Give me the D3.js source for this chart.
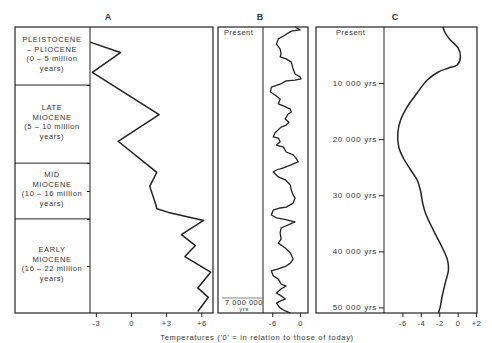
<!DOCTYPE html>
<html>
<head>
<meta charset="utf-8">
<script src="https://cdn.jsdelivr.net/npm/d3@7"></script>
<style>
  body { margin: 0; background: #fff; }
  svg { display: block; }
  text { font-family: 'Liberation Sans', Arial, sans-serif; fill: #333; }
</style>
</head>
<body>
<script>
// ---- data ----
const epochLabels = [
  ['PLEISTOCENE', '– PLIOCENE', '(0 – 5 million', 'years)'],
  ['LATE', 'MIOCENE', '(5 – 10 million', 'years)'],
  ['MID', 'MIOCENE', '(10 – 16 million', 'years)'],
  ['EARLY', 'MIOCENE', '(16 – 22 million', 'years)']
]
const epochBounds = [0, 5, 10, 16, 22] // million years ago
const epochStops = [0, 0.203, 0.476, 0.671, 1] // epochs are not drawn to scale

// A: last 22 million years
const aAge = [1.3, 2.2, 3.9, 6.9, 8.6, 11.0, 12.5, 14.4, 14.9, 15.3, 16.1, 17.0, 17.7, 18.4, 19.4, 20.4, 21.0, 21.9]
const aTemp = [-3.5, -0.9, -3.3, 2.4, -1.1, 2.2, 1.6, 2.1, 2.2, 3.2, 6.2, 4.3, 5.5, 4.6, 6.8, 5.7, 6.6, 5.7]
const aTicks = [-3, 0, 3, 6]

// B: last 7 million years
const bAge = [0, 0.07, 0.10, 0.22, 0.29, 0.42, 0.54, 0.66, 0.73, 0.78, 0.86, 1.03, 1.15, 1.22, 1.27, 1.30, 1.32, 1.40, 1.47, 1.59,
  1.69, 1.76, 1.88, 1.93, 2.01, 2.08, 2.13, 2.25, 2.33, 2.40, 2.45, 2.59, 2.69, 2.72, 2.81, 2.89, 2.94, 3.06, 3.13, 3.21,
  3.30, 3.33, 3.38, 3.45, 3.50, 3.55, 3.67, 3.74, 3.87, 3.99, 4.11, 4.19, 4.31, 4.41, 4.43, 4.48, 4.60, 4.67, 4.70, 4.77,
  4.92, 5.04, 5.19, 5.29, 5.41, 5.53, 5.68, 5.78, 5.85, 5.92, 5.97, 6.09, 6.17, 6.29, 6.34, 6.41, 6.51, 6.58, 6.66, 6.71,
  6.76, 6.88, 6.95, 7.0]
const bTemp = [-1.1, 0, -1.9, -3.6, -4.7, -5.1, -4.3, -4.1, -4.3, -3.0, -1.9, -1.5, -1.1, 0, 0.2, -1.1, -3.0, -4.3, -6.2, -6.4,
  -5.1, -4.3, -4.7, -3.6, -2.1, -1.9, -2.6, -3.2, -2.4, -3.0, -4.1, -5.4, -5.8, -4.7, -4.3, -5.1, -3.6, -3.0, -1.5, -0.9,
  -0.4, -1.1, -2.1, -3.6, -5.1, -5.8, -4.7, -3.2, -2.1, -1.9, -1.5, -1.1, -1.5, -3.0, -4.3, -5.8, -6.2, -5.1, -3.6, -1.1,
  -4.1, -4.3, -4.1, -4.7, -3.2, -2.1, -1.5, -2.1, -3.0, -4.7, -6.2, -5.8, -4.7, -4.1, -3.0, -4.1, -5.1, -4.1, -3.2, -4.3,
  -5.1, -4.3, -3.2, -2.1]
const bTicks = [-6, 0]

// C: last 50 000 years
const cYears = [0, 1070, 2320, 3740, 5350, 6780, 7310, 8020, 9450, 11770, 14270, 16580, 18900, 21400, 23360, 25500, 27280,
  29070, 31390, 33170, 36200, 39240, 41560, 43340, 45660, 48150, 49940, 51000]
const cTemp = [-1.6, -1.35, -0.8, 0.05, 0.3, -0.05, -1.0, -2.1, -3.3, -4.4, -5.5, -6.2, -6.5, -6.4, -5.9, -5.1, -4.4,
  -4.05, -3.8, -3.5, -2.65, -1.7, -1.1, -1.0, -1.35, -1.7, -1.9, -2.1]
const cTicks = [-6, -4, -2, 0, 2]
const cYearTicks = [10000, 20000, 30000, 40000, 50000]

// ---- layout ----
const width = 492
const height = 343
const plotTop = 27
const plotBottom = 313
const ink = '#222'

const svg = d3.select('body').append('svg')
  .attr('width', width)
  .attr('height', height)
  .attr('viewBox', [0, 0, width, height].join(' '))

const signed = d => d > 0 ? `+${d}` : `${d}`

const smallText = sel => sel
  .style('font-size', '7.5px')
  .style('letter-spacing', '0.5px')
  .attr('fill', '#333')

const bottomAxis = (scale, ticks) => {
  svg.append('g')
    .attr('transform', `translate(0, ${plotBottom})`)
    .call(d3.axisBottom(scale).tickValues(ticks).tickSize(4).tickSizeOuter(0).tickPadding(4).tickFormat(signed))
    .call(g => g.select('.domain').remove())
    .call(g => g.selectAll('line').attr('stroke', ink))
    .call(g => g.selectAll('text').attr('font-family', null).call(smallText))
}

const box = (x0, x1) => svg.append('rect')
  .attr('x', x0).attr('y', plotTop)
  .attr('width', x1 - x0).attr('height', plotBottom - plotTop)
  .attr('fill', 'none').attr('stroke', ink).attr('stroke-width', 1.2)

const vline = x => svg.append('line')
  .attr('x1', x).attr('x2', x).attr('y1', plotTop).attr('y2', plotBottom)
  .attr('stroke', ink).attr('stroke-width', 1)

const title = (x, t) => svg.append('text')
  .attr('x', x).attr('y', 20)
  .attr('text-anchor', 'middle')
  .style('font-size', '9px').style('font-weight', 'bold')
  .attr('fill', '#222')
  .text(t)

// ---- panel A ----
const aY = d3.scaleLinear()
  .domain(epochBounds)
  .range(epochStops.map(f => plotTop + f * (plotBottom - plotTop)))
const aX = d3.scaleLinear().domain([-3.5, 7]).range([90, 213])

box(15, 213)
vline(90)

svg.append('g')
  .selectAll('line')
  .data(epochBounds.slice(1, -1))
  .join('line')
  .attr('x1', 15).attr('x2', 90)
  .attr('y1', d => aY(d)).attr('y2', d => aY(d))
  .attr('stroke', ink)

svg.append('g')
  .attr('transform', 'translate(90, 0)')
  .call(d3.axisLeft(aY).tickValues([5, 10, 13, 16, 19]).tickSize(3).tickFormat(''))
  .call(g => g.select('.domain').remove())
  .call(g => g.selectAll('line').attr('stroke', ink))

epochLabels.forEach((lines, i) => {
  const mid = (aY(epochBounds[i]) + aY(epochBounds[i + 1])) / 2 - 2
  svg.append('g')
    .selectAll('text')
    .data(lines)
    .join('text')
    .attr('x', 52)
    .attr('y', (d, j) => mid + (j - (lines.length - 1) / 2) * 9.5)
    .attr('dy', '0.35em')
    .attr('text-anchor', 'middle')
    .call(smallText)
    .style('letter-spacing', '0.6px')
    .text(d => d)
})

svg.append('path')
  .datum(aAge.map((d, i) => [d, aTemp[i]]))
  .attr('fill', 'none')
  .attr('stroke', ink)
  .attr('stroke-width', 1.5)
  .attr('stroke-linejoin', 'round')
  .attr('d', d3.line().x(d => aX(d[1])).y(d => aY(d[0])))

bottomAxis(aX, aTicks)
title(108, 'A')

// ---- panel B ----
const bY = d3.scaleLinear().domain([0, 7]).range([plotTop, plotBottom])
const bX = d3.scaleLinear().domain([-8, 1.7]).range([263, 308])

box(218, 308)
vline(263)

svg.append('text')
  .attr('x', 224).attr('y', 35)
  .call(smallText)
  .text('Present')

svg.append('line')
  .attr('x1', 222).attr('x2', 263)
  .attr('y1', bY(7) - 15).attr('y2', bY(7) - 15)
  .attr('stroke', '#666').attr('stroke-width', 0.8)

svg.append('text')
  .attr('x', 244).attr('y', bY(7) - 8)
  .attr('text-anchor', 'middle')
  .call(smallText)
  .text('7 000 000')

svg.append('text')
  .attr('x', 244).attr('y', bY(7) - 2)
  .attr('text-anchor', 'middle')
  .call(smallText)
  .style('font-size', '6px')
  .text('yrs')

svg.append('path')
  .datum(bAge.map((d, i) => [d, bTemp[i]]))
  .attr('fill', 'none')
  .attr('stroke', ink)
  .attr('stroke-width', 1.3)
  .attr('stroke-linejoin', 'round')
  .attr('d', d3.line().x(d => bX(d[1])).y(d => bY(d[0])))

bottomAxis(bX, bTicks)
title(260, 'B')

// ---- panel C ----
const cY = d3.scaleLinear().domain([0, 51000]).range([plotTop, plotBottom])
const cX = d3.scaleLinear().domain([-8, 2.1]).range([384, 477])

box(316, 477)
vline(384)

svg.append('text')
  .attr('x', 336).attr('y', 35)
  .call(smallText)
  .text('Present')

svg.append('g')
  .attr('transform', 'translate(384, 0)')
  .call(d3.axisLeft(cY).tickValues(cYearTicks).tickSize(5).tickPadding(2)
    .tickFormat(d => `${d / 1000} 000 yrs`))
  .call(g => g.select('.domain').remove())
  .call(g => g.selectAll('line').attr('stroke', ink))
  .call(g => g.selectAll('text').attr('font-family', null).call(smallText)
    .style('font-size', '8px').style('letter-spacing', '0.7px'))

svg.append('path')
  .datum(cYears.map((d, i) => [d, cTemp[i]]))
  .attr('fill', 'none')
  .attr('stroke', ink)
  .attr('stroke-width', 1.5)
  .attr('d', d3.line().curve(d3.curveCatmullRom).x(d => cX(d[1])).y(d => cY(d[0])))

bottomAxis(cX, cTicks)
title(395, 'C')

// ---- shared x title ----
svg.append('text')
  .attr('x', 257).attr('y', 340)
  .attr('text-anchor', 'middle')
  .call(smallText)
  .style('letter-spacing', '0.7px')
  .text("Temperatures ('0' = in relation to those of today)")
</script>
</body>
</html>
